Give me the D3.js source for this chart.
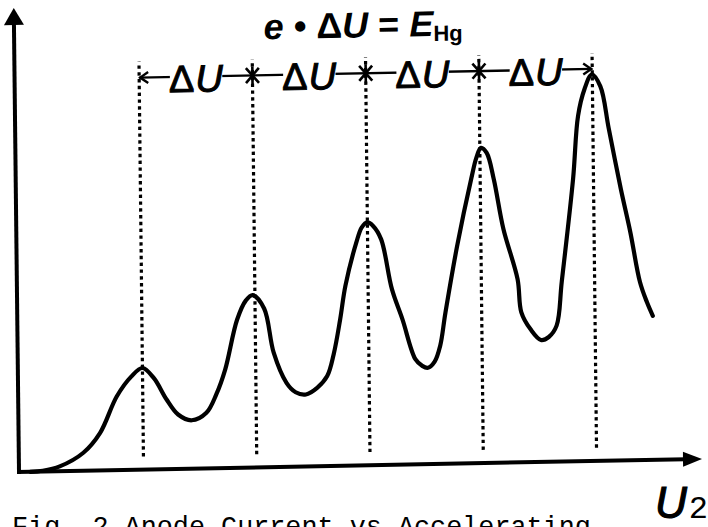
<!DOCTYPE html>
<html><head><meta charset="utf-8">
<script src="https://cdn.jsdelivr.net/npm/d3@7"></script>
<style>html,body{margin:0;padding:0;background:#fff;} svg{display:block;}</style>
</head><body>
<svg id="chart" width="708" height="527"></svg>
<script>
// ---- data (accelerating voltage U2 in arbitrary units, anode current in arbitrary units)
const curveU = [1.0, 2.1, 3.6, 5.7, 7.2, 8.7, 10.0, 11.0, 12.0, 13.1, 14.1, 15.3, 16.6, 17.5, 18.3, 19.4, 20.2, 20.8, 21.8, 22.6, 23.7, 24.5, 25.4, 26.4, 27.3, 27.9, 28.5, 29.0, 30.0, 30.5, 31.0, 31.5, 32.2, 33.1, 34.0, 35.1, 35.7, 36.2, 36.8, 37.3, 37.8, 38.9, 40.2, 40.7, 41.1, 41.6, 42.2, 43.0, 44.2, 44.5, 45.3, 46.2, 46.9, 47.6, 48.1, 49.2, 49.7, 50.3, 50.95, 51.7, 52.4, 53.4, 54.2, 55.0, 55.6, 56.1];
const curveI = [0, 0.2, 1.2, 4.5, 9.4, 18.4, 23.3, 25.4, 22.8, 17.4, 13.6, 12.1, 13.9, 18.5, 24.6, 37.0, 41.8, 43.1, 39.7, 28.6, 21.0, 18.6, 18.0, 19.6, 22.5, 28.0, 36.6, 45.0, 55.7, 59.5, 60.7, 59.8, 56.4, 43.9, 36.3, 26.3, 24.6, 24.1, 25.6, 29.5, 37.8, 54.4, 71.0, 76.5, 78.8, 77.5, 70.9, 58.4, 45.8, 37.5, 33.2, 30.5, 31.2, 34.0, 45.0, 70.6, 86.3, 93.0, 96.6, 93.6, 83.0, 67.9, 57.0, 44.5, 39.4, 36.0];
const peakU = [11, 21, 31, 41, 51];      // dotted guide lines
const starU = [21, 31, 41];              // asterisks on the ΔU bar
const labelU = [16, 26, 36, 46];         // ΔU label centres
const labelDelta = "Δ", labelU_txt = "U";
const xLabelMain = "U", xLabelSub = "2";
const caption = "Fig. 2 Anode Current vs Accelerating";

const svg = d3.select("#chart");
const x = d3.scaleLinear().domain([0, 60.3]).range([19, 702]);
const y = d3.scaleLinear().domain([0, 116]).range([472, 8]);

const g = svg.append("g")
  .attr("transform", `translate(${x(0)},${y(0)}) matrix(1,-0.0192,0.0113,1,0,0) translate(${-x(0)},${-y(0)})`);

// axes
const x0 = x(0), y0 = y(0), xEnd = x(60.3), yEnd = y(116);
g.append("line").attr("x1", x0).attr("y1", y0 + 2).attr("x2", x0).attr("y2", yEnd + 14)
  .attr("stroke", "#000").attr("stroke-width", 4);
g.append("path").attr("d", `M${x0},${yEnd} L${x0 - 10},${yEnd + 17} L${x0 + 10},${yEnd + 17} Z`).attr("fill", "#000");
g.append("line").attr("x1", x0 - 2).attr("y1", y0).attr("x2", xEnd - 16).attr("y2", y0)
  .attr("stroke", "#000").attr("stroke-width", 4);
g.append("path").attr("d", `M${xEnd},${y0} L${xEnd - 19},${y0 - 7.5} L${xEnd - 19},${y0 + 7.5} Z`).attr("fill", "#000");

// dotted guide lines
g.selectAll("line.guide").data(peakU).join("line").attr("class", "guide")
  .attr("x1", d => x(d)).attr("x2", d => x(d))
  .attr("y1", y(3.3)).attr("y2", y(102))
  .attr("stroke", "#000").attr("stroke-width", 3.2).attr("stroke-dasharray", "3.4 3.4");

// curve
const pts = curveU.map((u, i) => [u, curveI[i]]);
g.append("path").datum(pts)
  .attr("d", d3.line().x(d => x(d[0])).y(d => y(d[1])).curve(d3.curveCatmullRom.alpha(0.5)))
  .attr("fill", "none").attr("stroke", "#000").attr("stroke-width", 4.2)
  .attr("stroke-linejoin", "round").attr("stroke-linecap", "round");

// ΔU bar
const barY = y(98);
g.append("line").attr("x1", x(peakU[0])).attr("x2", x(peakU[4])).attr("y1", barY).attr("y2", barY)
  .attr("stroke", "#000").attr("stroke-width", 2.4);
const xl = x(peakU[0]), xr = x(peakU[4]);
g.append("path").attr("d", `M${xl + 9},${barY - 5.5} L${xl + 1},${barY} L${xl + 9},${barY + 5.5}`)
  .attr("fill", "none").attr("stroke", "#000").attr("stroke-width", 2.4);
g.append("path").attr("d", `M${xr - 9},${barY - 5.5} L${xr - 1},${barY} L${xr - 9},${barY + 5.5}`)
  .attr("fill", "none").attr("stroke", "#000").attr("stroke-width", 2.4);
g.selectAll("path.star").data(starU).join("path").attr("class", "star")
  .attr("transform", d => `translate(${x(d)},${barY})`)
  .attr("d", "M-6.5,-7.5 L6.5,7.5 M-6.5,7.5 L6.5,-7.5 M0,-9 L0,9")
  .attr("fill", "none").attr("stroke", "#000").attr("stroke-width", 2.6);

// ΔU labels with white background
const labels = g.selectAll("g.lab").data(labelU).join("g").attr("class", "lab")
  .attr("transform", d => `translate(${x(d)},${y(94.2)})`);
labels.append("rect").attr("fill", "#fff");
const lt = labels.append("text").attr("text-anchor", "middle")
  .attr("font-family", "'Liberation Sans', Arial, sans-serif").attr("font-size", 38)
  .attr("stroke", "#000").attr("stroke-width", 1);
lt.append("tspan").text(labelDelta);
lt.append("tspan").attr("font-style", "italic").attr("dx", 1).text(labelU_txt);
lt.each(function () {
  const b = this.getBBox();
  d3.select(this.parentNode).select("rect")
    .attr("x", b.x + 1).attr("y", b.y + 4).attr("width", b.width - 2).attr("height", b.height - 8);
});

// formula
const f = g.append("text").attr("x", x(31) - 2).attr("y", y(107)).attr("text-anchor", "middle")
  .attr("font-family", "'Liberation Sans', Arial, sans-serif").attr("font-size", 36).attr("font-weight", "bold");
f.append("tspan").attr("font-style", "italic").text("e");
f.append("tspan").text(" • Δ");
f.append("tspan").attr("font-style", "italic").text("U");
f.append("tspan").text(" = ");
f.append("tspan").attr("font-style", "italic").text("E");
f.append("tspan").attr("font-size", 22).attr("dy", 5).text("Hg");

// axis label U2
const ul = svg.append("text").attr("x", 655).attr("y", 518)
  .attr("font-family", "'Liberation Sans', Arial, sans-serif").attr("font-size", 44).attr("font-style", "italic")
  .attr("stroke", "#000").attr("stroke-width", 1.2);
ul.append("tspan").text(xLabelMain);
ul.append("tspan").attr("font-family", "'Liberation Mono', monospace").attr("font-style", "normal")
  .attr("font-size", 32).attr("dx", 2).attr("stroke-width", 0).text(xLabelSub);

// caption (cut off at bottom, as in the scanned figure)
svg.append("text").attr("x", 12).attr("y", 535)
  .attr("font-family", "'Liberation Mono', 'DejaVu Sans Mono', monospace").attr("font-size", 26.8)
  .text(caption);
</script>
</body></html>
